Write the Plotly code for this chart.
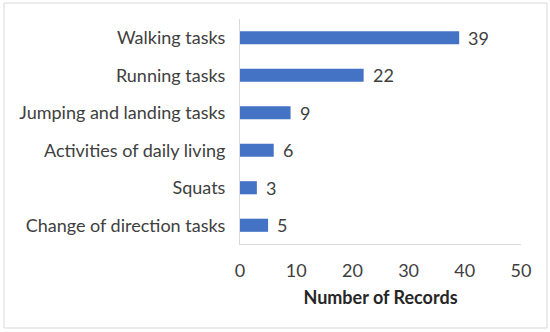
import plotly.graph_objects as go

categories = ["Walking tasks", "Running tasks", "Jumping and landing tasks",
              "Activities of daily living", "Squats", "Change of direction tasks"]
values = [39, 22, 9, 6, 3, 5]
x_ticks = [0, 10, 20, 30, 40, 50]

W, H = 550, 332
L, R, T, B = 240, 29, 19, 88
FONT = "Lato"
FS = 18
TXT = "#404040"

fig = go.Figure()
fig.add_trace(go.Bar(
    x=values, y=categories, orientation="h",
    marker=dict(color="#4472C4", line=dict(width=0)),
    hoverinfo="skip",
))

for c, v in zip(categories, values):
    fig.add_annotation(x=v, y=c, text=str(v), showarrow=False,
                       xanchor="left", xshift=7, yshift=0,
                       font=dict(family=FONT, size=FS, color=TXT))

pw = W - L - R
ph = H - T - B
fig.add_shape(type="rect", xref="paper", yref="paper",
              x0=(4 - L) / pw, x1=(547 - L) / pw,
              y0=(H - B - 328) / ph, y1=(H - B - 3) / ph,
              line=dict(color="#D9D9D9", width=1), fillcolor="rgba(0,0,0,0)",
              layer="below")

fig.update_layout(
    width=W, height=H,
    margin=dict(l=L, r=R, t=T, b=B),
    paper_bgcolor="white", plot_bgcolor="white",
    bargap=0.65,
    showlegend=False,
    font=dict(family=FONT, size=FS, color=TXT),
    xaxis=dict(range=[0, 50], tickvals=x_ticks, showgrid=False,
               showline=True, linecolor="#D9D9D9", linewidth=1,
               zeroline=False, ticks="", ticklabelstandoff=10,
               tickfont=dict(family=FONT, size=FS, color=TXT),
               title=dict(text="<b>Number of Records</b>", standoff=11,
                          font=dict(family=FONT, size=FS, color="#262626"))),
    yaxis=dict(categoryorder="array", categoryarray=categories[::-1],
               showgrid=False, showline=True, linecolor="#D9D9D9", linewidth=1,
               ticks="", ticklabelstandoff=10, zeroline=False,
               tickfont=dict(family=FONT, size=FS, color=TXT)),
)

fig.write_html("out.html", config={"displayModeBar": False},
               post_script="document.body.style.margin='0';document.body.style.padding='0';")
